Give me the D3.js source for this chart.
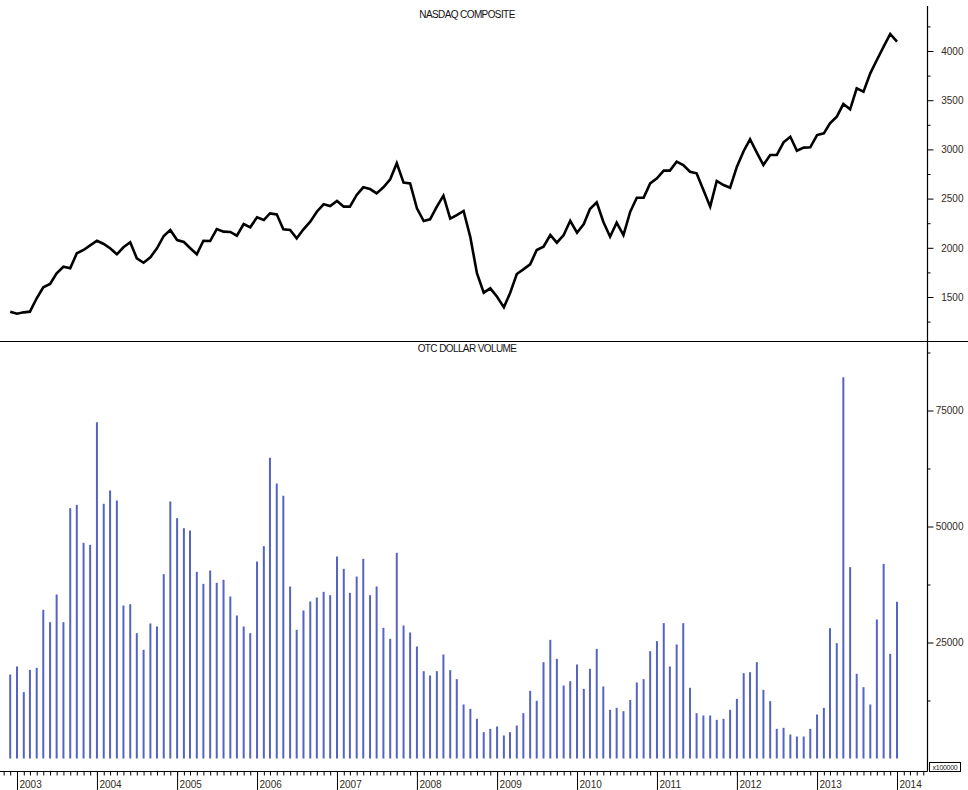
<!DOCTYPE html>
<html>
<head>
<meta charset="utf-8">
<script src="https://cdn.jsdelivr.net/npm/d3@7"></script>
<style>
  html, body { margin: 0; padding: 0; background: #fff; }
  svg { display: block; font-family: "Liberation Sans", Arial, sans-serif; }
</style>
</head>
<body>
<svg id="chart" width="968" height="790"></svg>
<script>
// monthly closes, Dec 2002 .. Jan 2014
const nasdaq = [
  1351, 1330, 1344, 1351, 1487, 1598, 1632, 1741, 1808, 1792, 1944, 1978,
  2025, 2072, 2039, 1995, 1934, 2005, 2056, 1893, 1848, 1903, 1995, 2120,
  2181, 2079, 2059, 1998, 1934, 2072, 2069, 2191, 2164, 2161, 2123, 2242,
  2208, 2310, 2282, 2350, 2340, 2188, 2181, 2096, 2188, 2265, 2367, 2442,
  2425, 2476, 2418, 2418, 2537, 2615, 2597, 2553, 2615, 2696, 2859, 2662,
  2655, 2401, 2272, 2289, 2418, 2530, 2296, 2333, 2374, 2107, 1741, 1544,
  1588, 1503, 1395, 1537, 1734, 1781, 1832, 1978, 2011, 2130, 2052, 2130,
  2275, 2153, 2242, 2394, 2462, 2265, 2113, 2255, 2130, 2367, 2509, 2509,
  2655, 2706, 2784, 2784, 2875, 2841, 2773, 2757, 2587, 2418, 2679, 2638,
  2611, 2824, 2984, 3103, 2967, 2841, 2943, 2943, 3072, 3129, 2987, 3018,
  3021, 3146, 3163, 3265, 3333, 3461, 3407, 3621, 3587, 3773, 3909, 4044,
  4173, 4095
];

// OTC dollar volume (x100000), same months
const volume = [
  18100, 19830, 14300, 19100, 19550, 32050, 29380, 35340, 29380, 53950, 54670, 46480,
  46050, 72480, 54890, 57760, 55600, 32970, 33260, 27010, 23420, 29100, 28450, 39730,
  55390, 51800, 49640, 49140, 40230, 37640, 40520, 37860, 38510, 34910, 30820, 28450,
  27010, 42460, 45760, 64800, 59270, 56610, 37070, 27730, 31900, 33840, 34700, 35920,
  35200, 43530, 40880, 35700, 39220, 43030, 35200, 37070, 28160, 25790, 44330, 28660,
  27160, 24140, 18820, 17890, 18820, 22410, 19040, 17100, 11640, 10700, 8550, 5680,
  6390, 6900, 4960, 5680, 7110, 9770, 14580, 12430, 20760, 25570, 21480, 15730,
  16670, 20260, 15010, 19320, 23630, 15520, 10490, 10920, 10200, 12640, 16380, 17100,
  23130, 25290, 29170, 19830, 24570, 29170, 15230, 9770, 9270, 9270, 8330, 8550,
  10490, 12860, 18390, 18610, 20760, 14800, 12360, 6390, 6610, 5170, 4740, 4740,
  6390, 9480, 10920, 28090, 24860, 82180, 41240, 18250, 15370, 11640, 29960, 41950,
  22560, 33770
];

const topTicks = [1500, 2000, 2500, 3000, 3500, 4000];
const topMinor = [1250, 1750, 2250, 2750, 3250, 3750, 4250];
const volTicks = [25000, 50000, 75000];
const volMinor = [12500, 37500, 62500, 87500];
const years = d3.range(2003, 2015);

const firstMonth = new Date(2002, 11, 1);
const months = nasdaq.map((v, i) => d3.timeMonth.offset(firstMonth, i));

const svg = d3.select('#chart');
const axisX = 927.5;
const xAxisY = 771.5;

const x = d3.scaleTime()
  .domain([new Date(2003, 0, 1), new Date(2014, 0, 1)])
  .range([17, 897]);

const yTop = d3.scaleLinear().domain([1500, 4000]).range([297, 51]);
const yVol = d3.scaleLinear().domain([0, 75000]).range([758.5, 410.5]);

// titles
svg.append('text')
  .attr('x', 467).attr('y', 18)
  .attr('text-anchor', 'middle')
  .attr('font-size', 10).attr('letter-spacing', -0.6)
  .attr('fill', '#111')
  .text('NASDAQ COMPOSITE');

svg.append('text')
  .attr('x', 467).attr('y', 352)
  .attr('text-anchor', 'middle')
  .attr('font-size', 10).attr('letter-spacing', -0.6)
  .attr('fill', '#111')
  .text('OTC DOLLAR VOLUME');

// volume bars
svg.append('g')
  .selectAll('line')
  .data(volume)
  .join('line')
  .attr('x1', (d, i) => x(months[i]))
  .attr('x2', (d, i) => x(months[i]))
  .attr('y1', yVol(0))
  .attr('y2', (d) => yVol(d))
  .attr('stroke', '#5563c2')
  .attr('stroke-width', 2);

// nasdaq line
const line = d3.line()
  .x((d, i) => x(months[i]))
  .y((d) => yTop(d));

svg.append('path')
  .datum(nasdaq)
  .attr('d', line)
  .attr('fill', 'none')
  .attr('stroke', '#000')
  .attr('stroke-width', 2.6)
  .attr('stroke-linejoin', 'miter');

// frame lines
svg.append('line')
  .attr('x1', 0).attr('x2', 968)
  .attr('y1', 341.5).attr('y2', 341.5)
  .attr('stroke', '#000').attr('stroke-width', 1.2);

svg.append('line')
  .attr('x1', axisX).attr('x2', axisX)
  .attr('y1', 6).attr('y2', xAxisY)
  .attr('stroke', '#000').attr('stroke-width', 1.2);

svg.append('line')
  .attr('x1', 0).attr('x2', axisX)
  .attr('y1', xAxisY).attr('y2', xAxisY)
  .attr('stroke', '#000').attr('stroke-width', 1.2);

// right axes
function rightAxis(scale, major, minor) {
  const g = svg.append('g').attr('transform', `translate(${axisX},0)`);
  g.append('g')
    .call(d3.axisRight(scale).tickValues(minor).tickSize(3).tickFormat(''))
    .call((s) => s.select('.domain').remove());
  const m = g.append('g')
    .call(d3.axisRight(scale).tickValues(major).tickSize(6).tickFormat(d3.format('d')))
    .call((s) => s.select('.domain').remove());
  m.selectAll('text')
    .attr('x', 36)
    .attr('text-anchor', 'end')
    .attr('font-size', 10)
    .attr('font-family', '"Liberation Sans", Arial, sans-serif')
    .attr('fill', '#332a22');
  g.selectAll('line').attr('stroke', '#000');
}

rightAxis(yTop, topTicks, topMinor);
rightAxis(yVol, volTicks, volMinor);

// bottom time axis
const xAxisG = svg.append('g').attr('transform', `translate(0,${xAxisY})`);
xAxisG.append('g')
  .call(d3.axisBottom(x)
    .tickValues(d3.timeMonth.range(x.invert(1), x.invert(axisX)))
    .tickSize(4).tickFormat(''))
  .call((s) => s.select('.domain').remove());

const yearG = xAxisG.append('g')
  .call(d3.axisBottom(x)
    .tickValues(years.map((y) => new Date(y, 0, 1)))
    .tickSize(19)
    .tickFormat(d3.timeFormat('%Y')))
  .call((s) => s.select('.domain').remove());
yearG.selectAll('text')
  .attr('x', 2).attr('y', 9)
  .attr('dy', '0.71em')
  .attr('text-anchor', 'start')
  .attr('font-size', 10)
  .attr('font-family', '"Liberation Sans", Arial, sans-serif')
  .attr('fill', '#332a22');
xAxisG.selectAll('line').attr('stroke', '#000');

// scale multiplier box
svg.append('rect')
  .attr('x', 929.5).attr('y', 762.5)
  .attr('width', 31).attr('height', 9)
  .attr('fill', '#fff').attr('stroke', '#000').attr('stroke-width', 1);
svg.append('text')
  .attr('x', 945).attr('y', 769.5)
  .attr('text-anchor', 'middle')
  .attr('font-size', 7).attr('letter-spacing', -0.3)
  .attr('fill', '#222')
  .text('x100000');
</script>
</body>
</html>
